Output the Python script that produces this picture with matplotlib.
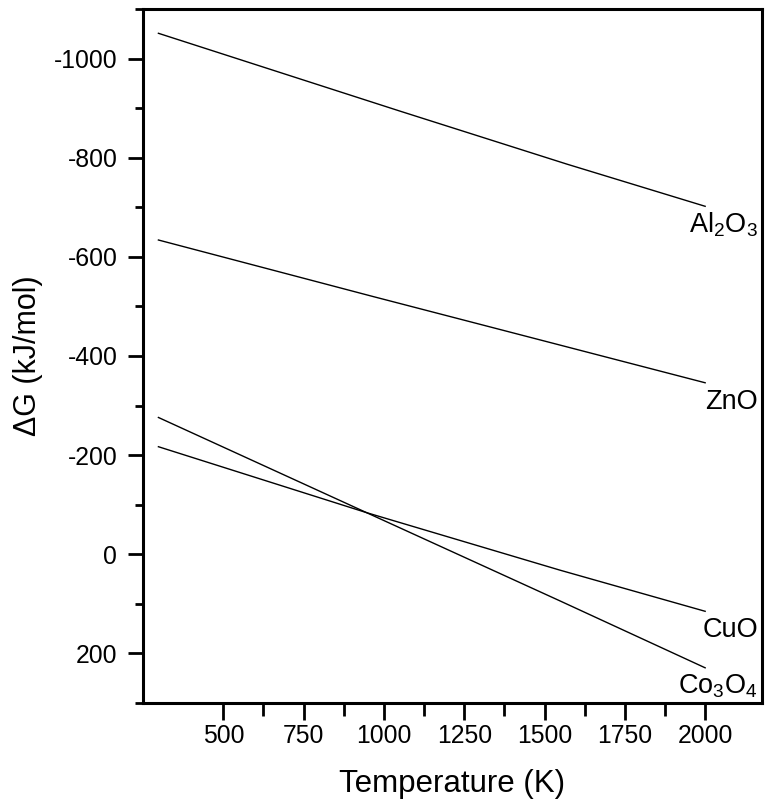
import matplotlib
matplotlib.use("Agg")
import matplotlib.pyplot as plt
from matplotlib.ticker import FixedLocator

plt.rcParams['font.family'] = ['Liberation Sans', 'DejaVu Sans']
plt.rcParams['mathtext.fontset'] = 'custom'
plt.rcParams['mathtext.rm'] = 'Liberation Sans'
plt.rcParams['mathtext.it'] = 'Liberation Sans:italic'
plt.rcParams['mathtext.bf'] = 'Liberation Sans:bold'
plt.rcParams['axes.unicode_minus'] = False

# Gibbs free energy of oxidation vs temperature (kJ/mol)
T_al2o3 = [298, 1050, 1570, 2000]
G_al2o3 = [-1051, -894, -787, -702]

T_zno = [298, 966, 2000]
G_zno = [-634, -520, -346]

T_cuo = [298, 946, 1548, 2000]
G_cuo = [-217, -84, 32, 115]

T_co3o4 = [298, 946, 1548, 2000]
G_co3o4 = [-276, -84, 94, 229]

series = [
    (T_al2o3, G_al2o3, r'Al$_\mathregular{2}$O$_\mathregular{3}$'),
    (T_zno, G_zno, 'ZnO'),
    (T_cuo, G_cuo, 'CuO'),
    (T_co3o4, G_co3o4, r'Co$_\mathregular{3}$O$_\mathregular{4}$'),
]

x_major = [500, 750, 1000, 1250, 1500, 1750, 2000]
x_minor = [625, 875, 1125, 1375, 1625, 1875]
y_major = [-1000, -800, -600, -400, -200, 0, 200]
y_minor = [-1100, -900, -700, -500, -300, -100, 100, 300]

fig = plt.figure(figsize=(7.66, 8.07), dpi=100)
ax = fig.add_axes([143 / 766, 1 - 703 / 807, (762 - 143) / 766, (703 - 9) / 807])

for T, G, name in series:
    ax.plot(T, G, color='black', lw=1.0)
    ax.annotate(name, xy=(T[-1], G[-1]), xytext=(38, -18.7),
                textcoords='offset points', ha='right', va='baseline',
                fontsize=19.5)

ax.set_xlim(250, 2177)
ax.set_ylim(300, -1100)

ax.xaxis.set_major_locator(FixedLocator(x_major))
ax.xaxis.set_minor_locator(FixedLocator(x_minor))
ax.yaxis.set_major_locator(FixedLocator(y_major))
ax.yaxis.set_minor_locator(FixedLocator(y_minor))

for s in ax.spines.values():
    s.set_linewidth(2.2)

ax.tick_params(axis='x', which='major', direction='out', length=12.5, width=2.0,
               labelsize=17.8, pad=2.5)
ax.tick_params(axis='x', which='minor', direction='out', length=9, width=2.0)
ax.tick_params(axis='y', which='major', direction='out', length=11, width=2.0,
               labelsize=17.8, pad=7.5)
ax.tick_params(axis='y', which='minor', direction='out', length=6, width=2.0)

ax.set_xlabel('Temperature (K)', fontsize=22.5, labelpad=15)
ax.set_ylabel('ΔG (kJ/mol)', fontsize=22, labelpad=8)

fig.savefig('out.png', dpi=100)
